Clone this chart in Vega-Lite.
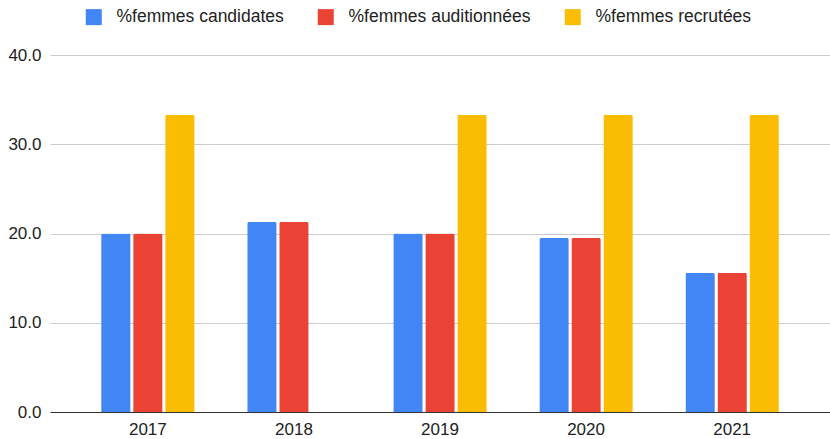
{
  "$schema": "https://vega.github.io/schema/vega-lite/v6.json",
  "width": 780,
  "height": 357,
  "autosize": {"type": "none"},
  "padding": {"left": 50, "top": 55, "right": 0, "bottom": 27},
  "background": "white",
  "data": {
    "values": [
      {"annee": "2017", "serie": "%femmes candidates", "valeur": 20.0},
      {"annee": "2017", "serie": "%femmes auditionnées", "valeur": 20.0},
      {"annee": "2017", "serie": "%femmes recrutées", "valeur": 33.3},
      {"annee": "2018", "serie": "%femmes candidates", "valeur": 21.3},
      {"annee": "2018", "serie": "%femmes auditionnées", "valeur": 21.3},
      {"annee": "2018", "serie": "%femmes recrutées", "valeur": 0.0},
      {"annee": "2019", "serie": "%femmes candidates", "valeur": 20.0},
      {"annee": "2019", "serie": "%femmes auditionnées", "valeur": 20.0},
      {"annee": "2019", "serie": "%femmes recrutées", "valeur": 33.3},
      {"annee": "2020", "serie": "%femmes candidates", "valeur": 19.5},
      {"annee": "2020", "serie": "%femmes auditionnées", "valeur": 19.5},
      {"annee": "2020", "serie": "%femmes recrutées", "valeur": 33.3},
      {"annee": "2021", "serie": "%femmes candidates", "valeur": 15.6},
      {"annee": "2021", "serie": "%femmes auditionnées", "valeur": 15.6},
      {"annee": "2021", "serie": "%femmes recrutées", "valeur": 33.3}
    ]
  },
  "mark": {"type": "bar", "cornerRadiusTopLeft": 2, "cornerRadiusTopRight": 2},
  "encoding": {
    "x": {
      "field": "annee", "type": "nominal", "title": null,
      "scale": {"paddingInner": 0.36, "paddingOuter": 0.35},
      "axis": {"labelAngle": 0, "domain": true, "domainColor": "#333333", "domainWidth": 1, "ticks": false, "labelFontSize": 17, "labelColor": "#222222", "labelFont": "Liberation Sans", "labelPadding": 9, "zindex": 1}
    },
    "xOffset": {
      "field": "serie", "type": "nominal",
      "sort": ["%femmes candidates", "%femmes auditionnées", "%femmes recrutées"],
      "scale": {"paddingInner": 0.08, "paddingOuter": 0}
    },
    "y": {
      "field": "valeur", "type": "quantitative", "title": null,
      "scale": {"domain": [0, 40], "nice": false},
      "axis": {"values": [0, 10, 20, 30, 40], "format": ".1f", "domain": false, "ticks": false, "labelFontSize": 17, "labelColor": "#222222", "labelFont": "Liberation Sans", "labelPadding": 9, "gridColor": "#cccccc", "gridWidth": 1}
    },
    "color": {
      "field": "serie", "type": "nominal", "title": null,
      "sort": ["%femmes candidates", "%femmes auditionnées", "%femmes recrutées"],
      "scale": {"domain": ["%femmes candidates", "%femmes auditionnées", "%femmes recrutées"], "range": ["#4285f4", "#ea4335", "#fbbc04"]},
      "legend": {
        "orient": "none", "legendX": 35, "legendY": -47, "direction": "horizontal",
        "symbolType": "square", "symbolSize": 256, "symbolStrokeWidth": 0, "symbolOpacity": 1,
        "labelFontSize": 17.5, "labelFont": "Liberation Sans", "labelColor": "#222222", "labelOffset": 14,
        "labelLimit": 400, "columnPadding": 33
      }
    }
  },
  "config": {"view": {"stroke": null}}
}
